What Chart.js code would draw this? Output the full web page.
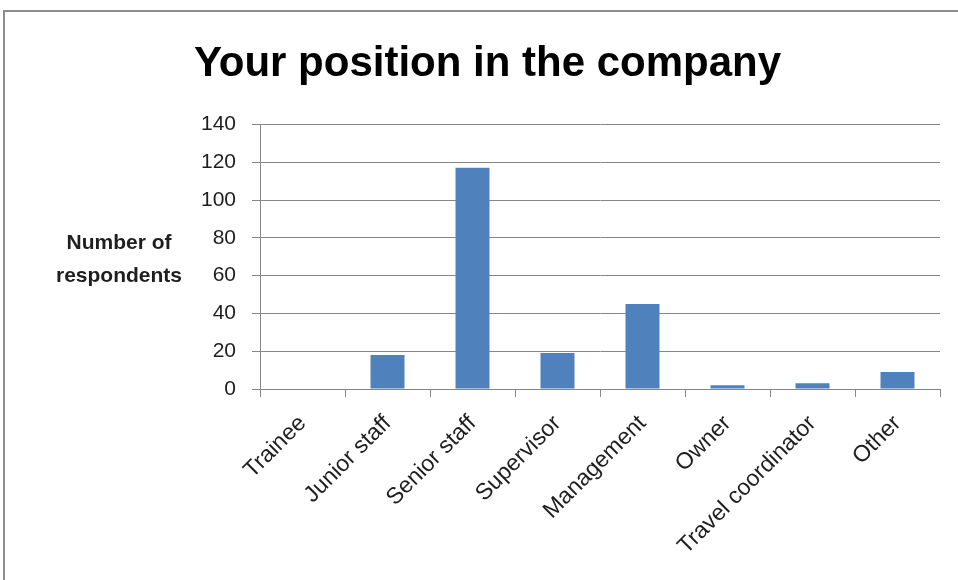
<!DOCTYPE html>
<html lang="en">
<head>
    <meta charset="UTF-8">
    <title>Your position in the company</title>
    <script src="https://cdn.jsdelivr.net/npm/chart.js"></script>
    <style>
        html, body {
            margin: 0;
            padding: 0;
            background: #fff;
            overflow: hidden;
        }
        .frame {
            position: absolute;
            left: 3px;
            top: 10px;
            width: 2000px;
            height: 2000px;
            border-left: 2px solid #8c8c8c;
            border-top: 2px solid #8c8c8c;
        }
        .chart-container {
            position: absolute;
            left: 0;
            top: 0;
            width: 958px;
            height: 580px;
        }
    </style>
</head>
<body>
    <div class="frame"></div>
    <div class="chart-container">
        <canvas id="positionChart"></canvas>
    </div>
    <script>
        const positions = ['Trainee', 'Junior staff', 'Senior staff', 'Supervisor', 'Management', 'Owner', 'Travel coordinator', 'Other'];
        const respondents = [0, 18, 117, 19, 45, 2, 3, 9];
        const yTitleLines = ['Number of', 'respondents'];

        const gridColor = '#868686';
        const textColor = '#1e1e1e';
        const fontFamily = '"Liberation Sans", Arial, sans-serif';

        // horizontal two-line title to the left of the value axis
        const yTitlePlugin = {
            id: 'yTitle',
            afterDraw(chart) {
                const { ctx, chartArea } = chart;
                const mid = (chartArea.top + chartArea.bottom) / 2;
                const x = chartArea.left - 141;
                ctx.save();
                ctx.font = 'bold 21px ' + fontFamily;
                ctx.fillStyle = textColor;
                ctx.textAlign = 'center';
                ctx.textBaseline = 'alphabetic';
                ctx.fillText(yTitleLines[0], x, mid - 7.5);
                ctx.fillText(yTitleLines[1], x, mid + 25.5);
                ctx.restore();
            }
        };

        const ctx = document.getElementById('positionChart').getContext('2d');
        const chart = new Chart(ctx, {
            type: 'bar',
            data: {
                labels: positions,
                datasets: [{
                    label: 'Number of respondents',
                    data: respondents,
                    backgroundColor: '#4f81bd',
                    borderWidth: 0,
                    barPercentage: 0.4,
                    categoryPercentage: 1.0
                }]
            },
            options: {
                responsive: true,
                maintainAspectRatio: false,
                animation: false,
                layout: {
                    padding: { left: 35, right: 18, top: 0, bottom: 0 }
                },
                plugins: {
                    legend: { display: false },
                    tooltip: { enabled: false },
                    title: {
                        display: true,
                        text: 'Your position in the company',
                        color: '#000',
                        font: { family: fontFamily, size: 42, weight: 'bold', lineHeight: 1.2 },
                        padding: { top: 39, bottom: 35 }
                    }
                },
                scales: {
                    x: {
                        afterFit(scale) { scale.height = 191; },
                        border: { display: true, color: gridColor, width: 1 },
                        grid: {
                            offset: true,
                            drawOnChartArea: false,
                            drawTicks: true,
                            tickLength: 8,
                            color: gridColor
                        },
                        ticks: {
                            autoSkip: false,
                            minRotation: 45,
                            maxRotation: 45,
                            padding: 13,
                            color: textColor,
                            font: { family: fontFamily, size: 23 }
                        }
                    },
                    y: {
                        min: 0,
                        max: 140,
                        afterFit(scale) { scale.width = 225; },
                        border: { display: true, color: gridColor, width: 1 },
                        grid: {
                            color: gridColor,
                            drawTicks: true,
                            tickLength: 8
                        },
                        ticks: {
                            stepSize: 20,
                            padding: 16,
                            color: textColor,
                            font: { family: fontFamily, size: 21 }
                        }
                    }
                }
            },
            plugins: [yTitlePlugin]
        });
    </script>
</body>
</html>
